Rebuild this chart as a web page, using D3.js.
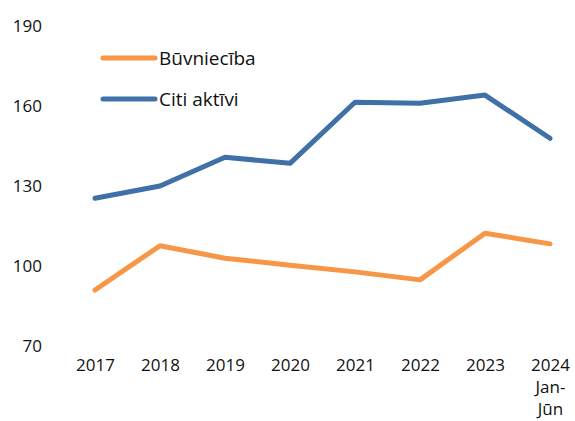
<!DOCTYPE html>
<html><head><meta charset="utf-8">
<script src="https://cdn.jsdelivr.net/npm/d3@7"></script>
<style>body{margin:0;background:#fff}svg{display:block}text{font-family:"Open Sans",sans-serif;fill:#111}</style>
</head><body>
<script>
const categories = ["2017","2018","2019","2020","2021","2022","2023","2024\nJan-\nJūn"];
const seriesNames = ["Būvniecība","Citi aktīvi"];
const buvniecība = [91.0,107.6,102.9,100.3,97.8,94.8,112.3,108.3];
const citiAktivi = [125.4,130.0,140.8,138.5,161.4,161.0,164.1,147.9];
const yTicks = [70,100,130,160,190];
const colors = ["#F79646","#4070A8"];

const W=575,H=421;
const svg=d3.select("body").append("svg").attr("width",W).attr("height",H);
const x=d3.scalePoint().domain(categories).range([95,550]);
const y=d3.scaleLinear().domain([70,190]).range([346,26]);

// y axis
const ya=svg.append("g").attr("transform","translate(42,0)")
  .call(d3.axisLeft(y).tickValues(yTicks).tickSize(0).tickPadding(0));
ya.select(".domain").remove();
ya.selectAll("text").attr("font-size",17).attr("font-family","Open Sans").attr("fill","#111").attr("dy","0.35em");

// x axis
const xa=svg.append("g").attr("transform","translate(0,352)")
  .call(d3.axisBottom(x).tickSize(0).tickPadding(0).tickFormat(""));
xa.select(".domain").remove();
xa.selectAll(".tick").each(function(d){
  const lines=d.split("\n");
  const t=d3.select(this).append("text").attr("font-size",17).attr("text-anchor","middle").attr("fill","#111");
  lines.forEach((l,i)=>t.append("tspan").attr("x",0).attr("y",19+i*22).text(l));
});

const line=d3.line().x((d,i)=>x(categories[i])).y(d=>y(d));
[buvniecība,citiAktivi].forEach((s,k)=>{
  svg.append("path").datum(s).attr("d",line).attr("fill","none")
    .attr("stroke",colors[k]).attr("stroke-width",5).attr("stroke-linecap","round").attr("stroke-linejoin","round");
});

// legend
const legY=[58,99];
seriesNames.forEach((n,k)=>{
  svg.append("line").attr("x1",103).attr("x2",155).attr("y1",legY[k]).attr("y2",legY[k])
    .attr("stroke",colors[k]).attr("stroke-width",5).attr("stroke-linecap","round");
  svg.append("text").attr("x",159).attr("y",legY[k]).attr("dy","0.35em").attr("font-size",19).text(n);
});
</script>
</body></html>
